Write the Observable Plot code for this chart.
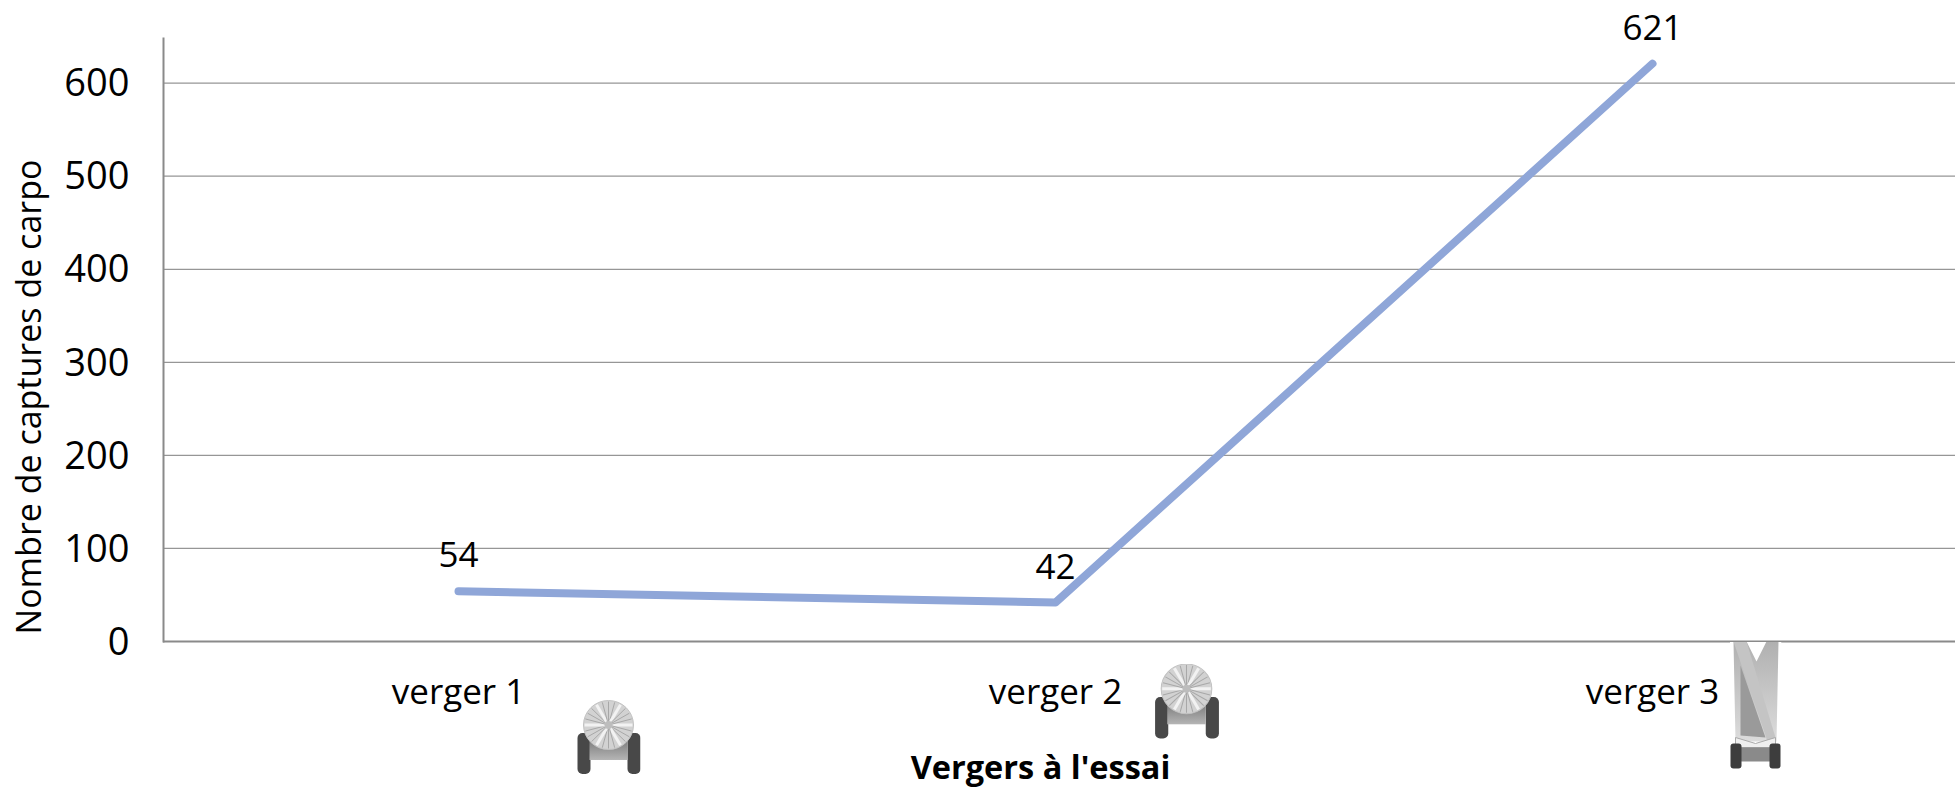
<!DOCTYPE html>
<html lang="fr">
<head>
<meta charset="utf-8">
<title>Captures de carpo</title>
<script src="https://cdn.jsdelivr.net/npm/d3@7"></script>
<script src="https://cdn.jsdelivr.net/npm/@observablehq/plot@0.6"></script>
<style>
html,body{margin:0;padding:0;background:#fff;overflow:hidden}
svg{display:block}
</style>
</head>
<body>
<div id="chart"></div>
<script>
const categories = ["verger 1", "verger 2", "verger 3"];
const captures = [54, 42, 621];
const yTicks = [0, 100, 200, 300, 400, 500, 600];
const xTitle = "Vergers à l'essai";
const yTitle = "Nombre de captures de carpo";

const rows = categories.map((c, i) => ({verger: c, captures: captures[i]}));

function uri(svg) { return "data:image/svg+xml;charset=utf-8," + encodeURIComponent(svg); }

const spokes = d3.range(24).map(i => {
  const a = i * Math.PI / 12;
  const major = i % 4 === 0;
  return `<line x1="32" y1="25" x2="${32 + 24 * Math.cos(a)}" y2="${25 + 23.5 * Math.sin(a)}" stroke="${major ? "#f2f2f2" : "#a8a8a8"}" stroke-width="${major ? 3 : 1}"/>`;
}).join("");
const fanIcon = uri(`<svg xmlns="http://www.w3.org/2000/svg" viewBox="0 0 64 75">
<defs><linearGradient id="b" x1="0" x2="0" y1="0" y2="1"><stop offset="0" stop-color="#7c7c7c"/><stop offset="1" stop-color="#b5b5b5"/></linearGradient></defs>
<rect x="1" y="33" width="13" height="41" rx="5" fill="#484848"/>
<rect x="51" y="33" width="13" height="41" rx="5" fill="#484848"/>
<rect x="13" y="40" width="38" height="20" fill="url(#b)"/>
<ellipse cx="32" cy="25" rx="25" ry="24.5" fill="#d2d2d2" stroke="#c2c2c2" stroke-width="1"/>
${spokes}
<ellipse cx="32" cy="25" rx="4" ry="4" fill="#bdbdbd"/>
</svg>`);
const towerIcon = uri(`<svg xmlns="http://www.w3.org/2000/svg" viewBox="0 0 52 128" preserveAspectRatio="none">
<defs><linearGradient id="t" x1="0" x2="0" y1="0" y2="1"><stop offset="0" stop-color="#b0b0b0"/><stop offset="1" stop-color="#dcdcdc"/></linearGradient></defs>
<rect width="52" height="128" fill="#fff"/>
<path d="M4 0H17L27 20L37 0H49L47 100H6Z" fill="url(#t)"/>
<path d="M4 0H17L46 96L38 100Z" fill="#c4c4c4"/>
<path d="M11 24L36 96L11 94Z" fill="#9a9a9a"/>
<path d="M6 96L26 102L46 96V106H6Z" fill="#efefef" stroke="#aaa"/>
<rect x="10" y="106" width="32" height="14" fill="#8a8a8a"/>
<rect x="1" y="102" width="11" height="25" rx="3" fill="#3d3d3d"/>
<rect x="40" y="102" width="11" height="25" rx="3" fill="#3d3d3d"/>
</svg>`);

const font = "'Open Sans', sans-serif";
const chart = Plot.plot({
  width: 1958,
  height: 788,
  marginLeft: 163,
  marginRight: 3,
  marginTop: 38,
  marginBottom: 147,
  style: {background: "#fff", fontFamily: font, color: "#000"},
  x: {type: "point", domain: categories, range: [159.5, 1950.5], padding: 0.5},
  y: {domain: [0, 648]},
  marks: [
    Plot.gridY(yTicks, {stroke: "#969696", strokeOpacity: 1, strokeWidth: 1.2}),
    Plot.ruleY([0], {stroke: "#8a8a8a", strokeWidth: 2}),
    Plot.frame({anchor: "left", stroke: "#8a8a8a", strokeWidth: 2}),
    Plot.axisY({ticks: yTicks, tickSize: 0, tickPadding: 34, fontSize: 38, label: null, dy: 1}),
    Plot.axisX({tickSize: 0, tickPadding: 38, fontSize: 35, label: null}),
    Plot.text([yTitle], {frameAnchor: "left", textAnchor: "middle", rotate: -90, dx: -133, dy: 57, fontSize: 34}),
    Plot.text([xTitle], {frameAnchor: "bottom", dx: -19, dy: 137, fontSize: 32.5, fontWeight: 700}),
    Plot.image(rows.slice(0, 1), {x: "verger", y: () => 0, src: () => fanIcon, width: 64, height: 75, dx: 150, dy: 96}),
    Plot.image(rows.slice(1, 2), {x: "verger", y: () => 0, src: () => fanIcon, width: 65, height: 76, dx: 131, dy: 60}),
    Plot.image(rows.slice(2, 3), {x: "verger", y: () => 0, src: () => towerIcon, width: 52, height: 128, dx: 103, dy: 64, preserveAspectRatio: "none"}),
    Plot.line(rows, {x: "verger", y: "captures", stroke: "#8fa6d8", strokeWidth: 8, strokeLinecap: "round", strokeLinejoin: "round"}),
    Plot.text(rows, {x: "verger", y: "captures", text: d => String(d.captures), dy: -35, fontSize: 35, fill: "#000"})
  ]
});
document.getElementById("chart").append(chart);
</script>
</body>
</html>
